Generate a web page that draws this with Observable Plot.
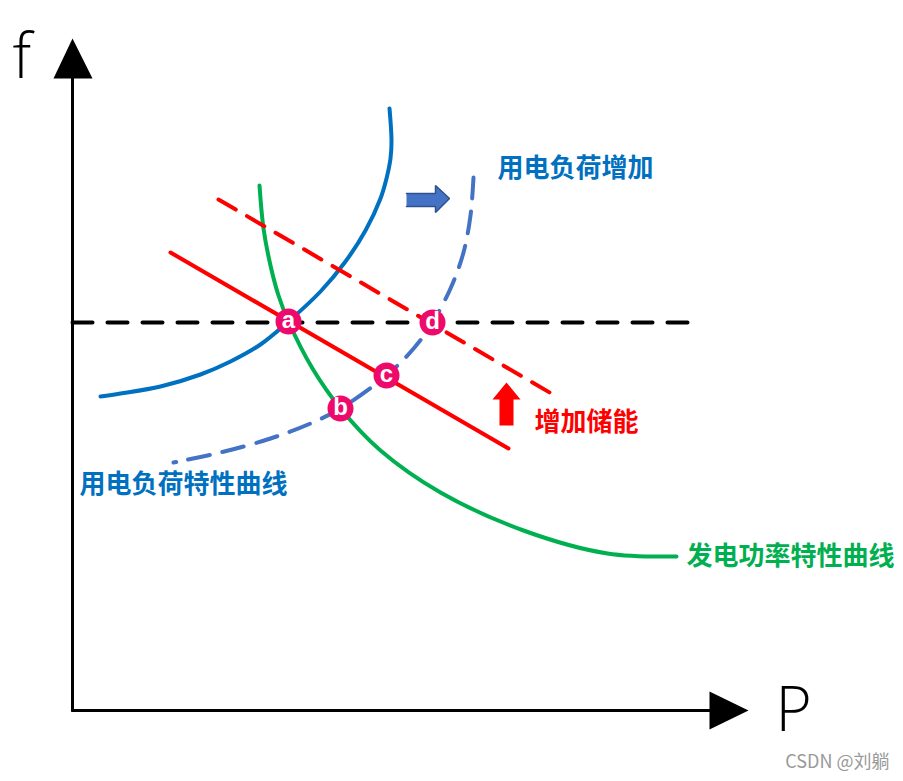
<!DOCTYPE html>
<html><head><meta charset="utf-8">
<script src="https://cdn.jsdelivr.net/npm/d3@7"></script>
<script src="https://cdn.jsdelivr.net/npm/@observablehq/plot@0.6"></script>
<style>body{margin:0;background:#fff;} svg{display:block;}</style>
</head><body><div id="chart"></div>
<script>
// Schematic curves, values (P on x, f on y, in picture units; y grows downward)
const loadCurve = [[100,396],[120,393],[160,386],[200,374],[230,361],[260,344],[288,321],[320,291],[345,261],[365,230],[380,198],[386,178],[390,158],[391,140],[389,108]];
const loadCurveShifted = [[173,462],[220,452],[270,438],[310,423],[340,408],[386,375],[414,347],[432,322],[450,288],[463,252],[470,215],[473,177]];
const genCurve = [[259,185],[263,228],[270,265],[278,295],[288,321],[312,368],[340,408],[380,450],[440,492],[523,530],[607,553],[676,556]];
const redLine = [[170,252],[508,448]];
const redDashed = [[218,199],[556,396]];
const refLine = [[72,322],[688,322]];
const yAxisLine = [[72,710],[72,76]];
const xAxisLine = [[72,710],[711,710]];
const yArrowHead = [[72,38],[53,78],[92,78]];
const xArrowHead = [[748,710],[709,691],[709,729]];
const blueArrow = [[406,193],[435,193],[435,185],[449,198],[435,212],[435,206],[406,206]];
const redArrow = [[506,382],[520,399],[513,399],[513,425],[499,425],[499,399],[492,399]];
const pointNames = ["a","b","c","d"];
const pointX = [288,340,386,432];
const pointY = [321,408,375,322];
const labels = [
  {text:"用电负荷增加", x:497, y:168, color:"#0070C0"},
  {text:"增加储能", x:534, y:422, color:"#FF0000"},
  {text:"用电负荷特性曲线", x:79, y:484, color:"#0070C0"},
  {text:"发电功率特性曲线", x:686, y:556, color:"#00B050"}
];
const axisNames = [{text:"f", x:12, y:58},{text:"P", x:775, y:711}];

const pts = pointNames.map((n,i)=>({n, x:pointX[i], y:pointY[i]}));
const cjk = "'Microsoft YaHei','Noto Sans CJK SC',sans-serif";

const chart = Plot.plot({
  width: 903, height: 781, margin: 0,
  x: {domain:[0,903], range:[0,903], axis:null},
  y: {domain:[0,781], range:[0,781], axis:null},
  marks: [
    Plot.line(refLine, {x:d=>d[0], y:d=>d[1], stroke:"#000", strokeWidth:4, strokeDasharray:"20,15"}),
    Plot.line(loadCurve, {x:d=>d[0], y:d=>d[1], stroke:"#0070C0", strokeWidth:4, curve:"catmull-rom"}),
    Plot.line(loadCurveShifted, {x:d=>d[0], y:d=>d[1], stroke:"#4472C4", strokeWidth:4, strokeDasharray:"3,12,22,13,22,13,22,13,22,13,22,13,22,13,22,13,22,13,22,13,22,13,22,13,22,13,22,13", curve:"catmull-rom"}),
    Plot.line(genCurve, {x:d=>d[0], y:d=>d[1], stroke:"#00B050", strokeWidth:4, curve:"catmull-rom"}),
    Plot.line(redLine, {x:d=>d[0], y:d=>d[1], stroke:"#FF0000", strokeWidth:4}),
    Plot.line(redDashed, {x:d=>d[0], y:d=>d[1], stroke:"#FF0000", strokeWidth:4, strokeDasharray:"20,13"}),
    Plot.line(yAxisLine, {x:d=>d[0], y:d=>d[1], stroke:"#000", strokeWidth:3}),
    Plot.line(xAxisLine, {x:d=>d[0], y:d=>d[1], stroke:"#000", strokeWidth:3}),
    Plot.line(yArrowHead, {x:d=>d[0], y:d=>d[1], fill:"#000", stroke:"none"}),
    Plot.line(xArrowHead, {x:d=>d[0], y:d=>d[1], fill:"#000", stroke:"none"}),
    Plot.line(blueArrow, {x:d=>d[0], y:d=>d[1], fill:"#4472C4", stroke:"#2F528F", strokeWidth:1.5, strokeLinejoin:"miter"}),
    Plot.line(redArrow, {x:d=>d[0], y:d=>d[1], fill:"#FF0000", stroke:"none"}),
    Plot.dot(pts, {x:"x", y:"y", r:13, fill:"#EE0A6A", stroke:"none"}),
    Plot.text(pts, {x:"x", y:"y", text:"n", fill:"#fff", fontSize:24, fontWeight:"bold", fontFamily:"'Liberation Sans',Arial,sans-serif", dy:-1}),
    Plot.text(labels, {x:"x", y:"y", text:"text", fill:d=>d.color, textAnchor:"start", fontSize:26, fontWeight:"bold", fontFamily:cjk}),
    Plot.text(axisNames, {x:"x", y:"y", text:"text", fill:"#000", textAnchor:"start", fontSize:62, fontWeight:300, fontFamily:"'Open Sans','DejaVu Sans',sans-serif"}),
    Plot.text(["CSDN @刘躺"], {x:[889], y:[762], text:d=>d, fill:"#999", textAnchor:"end", fontSize:18, fontFamily:cjk})
  ]
});
document.getElementById("chart").appendChild(chart);
</script></body></html>
